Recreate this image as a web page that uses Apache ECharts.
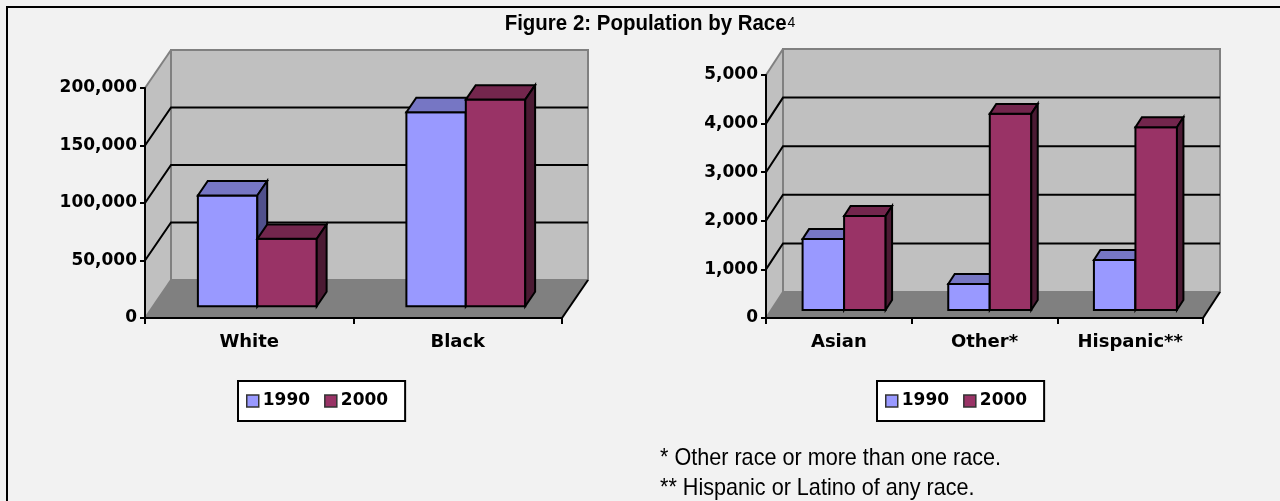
<!DOCTYPE html>
<html>
<head>
<meta charset="utf-8">
<title>Figure 2: Population by Race</title>
<script src="https://cdn.jsdelivr.net/npm/echarts@6/dist/echarts.min.js"></script>
<style>
    html, body { margin: 0; padding: 0; background: #f2f2f2; }
    #chart { width: 1280px; height: 501px; }
</style>
</head>
<body>
<div id="chart"></div>
<script>
(function () {
    'use strict';

    // left panel (large groups)
    var bigCategories = ['White', 'Black'];
    var big1990 = [96300, 168700];
    var big2000 = [58600, 179700];
    var bigTicks = [0, 50000, 100000, 150000, 200000];

    // right panel (small groups)
    var smallCategories = ['Asian', 'Other*', 'Hispanic**'];
    var small1990 = [1460, 535, 1030];
    var small2000 = [1935, 4035, 3760];
    var smallTicks = [0, 1000, 2000, 3000, 4000, 5000];

    var years = ['1990', '2000'];
    var titleText = 'Figure 2: Population by Race';
    var titleNote = '4';
    var footnotes = ['* Other race or more than one race.', '** Hispanic or Latino of any race.'];

    var FRONT = ['#9999ff', '#993366'];
    var TOP = ['#7676c4', '#73264d'];
    var SIDE = ['#50508c', '#4b1a33'];
    var WALL = '#c0c0c0';
    var FLOOR = '#808080';
    var EDGE = '#808080';
    var LABEL_FONT = 'DejaVu Sans';
    var NOTE_FONT = "'Liberation Sans', Arial, sans-serif";
    var BAR_RATIO = 0.285;

    // depth offset of each panel's back wall, in pixels
    var depths = [{dx: 26, dy: -38}, {dx: 17, dy: -26}];

    var chart = echarts.init(document.getElementById('chart'), null, {renderer: 'canvas'});

    function toPairs(values) {
        return values.map(function (v, i) {
            return [i, v];
        });
    }

    function fmt(v) {
        return v.toLocaleString('en-US');
    }

    function renderFrame(depth) {
        return function (params, api) {
            var cs = params.coordSys;
            var x0 = cs.x, x1 = cs.x + cs.width;
            var y0 = api.coord([0, 0])[1];
            var yt = api.coord([0, api.value(0)])[1];
            var dx = depth.dx, dy = depth.dy;
            var edge = {stroke: EDGE, lineWidth: 2, fill: null};
            return {
                type: 'group',
                children: [
                    {type: 'polygon', shape: {points: [[x0, y0], [x0, yt], [x0 + dx, yt + dy], [x0 + dx, y0 + dy]]},
                        style: {fill: WALL}},
                    {type: 'rect', shape: {x: x0 + dx, y: yt + dy, width: x1 - x0, height: y0 - yt},
                        style: {fill: WALL, stroke: EDGE, lineWidth: 2}},
                    {type: 'polygon', shape: {points: [[x0, y0], [x1, y0], [x1 + dx, y0 + dy], [x0 + dx, y0 + dy]]},
                        style: {fill: FLOOR}},
                    {type: 'line', shape: {x1: x0, y1: yt, x2: x0 + dx, y2: yt + dy}, style: edge},
                    {type: 'line', shape: {x1: x0, y1: y0, x2: x0 + dx, y2: y0 + dy}, style: edge},
                    {type: 'line', shape: {x1: x0 + dx, y1: y0 + dy, x2: x1 + dx, y2: y0 + dy}, style: edge},
                    {type: 'line', shape: {x1: x1, y1: y0, x2: x1 + dx, y2: y0 + dy},
                        style: {stroke: '#000', lineWidth: 2}}
                ]
            };
        };
    }

    function renderGridLine(depth) {
        return function (params, api) {
            var cs = params.coordSys;
            var x0 = cs.x, x1 = cs.x + cs.width;
            var y = api.coord([0, api.value(0)])[1];
            return {
                type: 'polyline',
                shape: {points: [[x0, y], [x0 + depth.dx, y + depth.dy], [x1 + depth.dx, y + depth.dy]]},
                style: {stroke: '#000', lineWidth: 2, fill: null}
            };
        };
    }

    function renderBar(depth, idx) {
        return function (params, api) {
            var cat = api.value(0);
            var base = api.coord([cat, 0]);
            var top = api.coord([cat, api.value(1)]);
            var w = api.size([1, 0])[0] * BAR_RATIO;
            var ox = depth.dx * 0.31, oy = depth.dy * 0.31;
            var tx = depth.dx * 0.38, ty = depth.dy * 0.38;
            var fx = base[0] + ox + (idx === 0 ? -w : 0);
            var fy0 = base[1] + oy, fy1 = top[1] + oy;
            var line = {stroke: '#000', lineWidth: 2, lineJoin: 'miter'};
            return {
                type: 'group',
                children: [
                    {type: 'rect', shape: {x: fx, y: fy1, width: w, height: fy0 - fy1},
                        style: echarts.util.extend({fill: FRONT[idx]}, line)},
                    {type: 'polygon', shape: {points: [[fx, fy1], [fx + w, fy1], [fx + w + tx, fy1 + ty], [fx + tx, fy1 + ty]]},
                        style: echarts.util.extend({fill: TOP[idx]}, line)},
                    {type: 'polygon', shape: {points: [[fx + w, fy1], [fx + w + tx, fy1 + ty], [fx + w + tx, fy0 + ty], [fx + w, fy0]]},
                        style: echarts.util.extend({fill: SIDE[idx]}, line)}
                ]
            };
        };
    }

    function makeAxes(gi, categories, ticks) {
        var xAxis = {
            gridIndex: gi,
            type: 'category',
            data: categories,
            z: 10,
            axisLine: {show: true, lineStyle: {color: '#000', width: 2}},
            axisTick: {show: true, interval: 0, length: 6, lineStyle: {color: '#000', width: 2}},
            axisLabel: {color: '#000', fontFamily: LABEL_FONT, fontWeight: 'bold', fontSize: 18, margin: 15}
        };
        var yAxis = {
            gridIndex: gi,
            type: 'value',
            min: ticks[0],
            max: ticks[ticks.length - 1],
            interval: ticks[1] - ticks[0],
            z: 10,
            axisLine: {show: true, lineStyle: {color: '#000', width: 2}},
            axisTick: {show: true, length: 5, lineStyle: {color: '#000', width: 2}},
            axisLabel: {color: '#000', fontFamily: LABEL_FONT, fontWeight: 'bold', fontSize: 17, margin: 8, formatter: fmt},
            splitLine: {show: false}
        };
        return [xAxis, yAxis];
    }

    function makeSeries(gi, ticks, s1990, s2000) {
        var depth = depths[gi];
        var inner = ticks.slice(1, ticks.length - 1).map(function (t) {
            return [t];
        });
        return [
            {type: 'custom', name: 'frame' + gi, xAxisIndex: gi, yAxisIndex: gi, z: 1, silent: true,
                renderItem: renderFrame(depth), data: [[ticks[ticks.length - 1]]], encode: {y: 0}},
            {type: 'custom', name: 'grid' + gi, xAxisIndex: gi, yAxisIndex: gi, z: 2, silent: true,
                renderItem: renderGridLine(depth), data: inner, encode: {y: 0}},
            {type: 'custom', name: years[0], xAxisIndex: gi, yAxisIndex: gi, z: 3,
                itemStyle: {color: FRONT[0]}, renderItem: renderBar(depth, 0),
                data: toPairs(s1990), encode: {x: 0, y: 1}},
            {type: 'custom', name: years[1], xAxisIndex: gi, yAxisIndex: gi, z: 4,
                itemStyle: {color: FRONT[1]}, renderItem: renderBar(depth, 1),
                data: toPairs(s2000), encode: {x: 0, y: 1}}
        ];
    }

    function makeLegend(left) {
        return {
            data: years,
            left: left,
            top: 381,
            orient: 'horizontal',
            backgroundColor: '#fff',
            borderColor: '#000',
            borderWidth: 2,
            borderRadius: 0,
            padding: [9, 17, 9, 8],
            itemGap: 14,
            itemWidth: 12,
            itemHeight: 12,
            icon: 'rect',
            selectedMode: false,
            itemStyle: {borderColor: '#333', borderWidth: 1.5},
            textStyle: {color: '#000', fontFamily: LABEL_FONT, fontWeight: 'bold', fontSize: 17, lineHeight: 22, padding: [0, 0, 0, -1]}
        };
    }

    var leftAxes = makeAxes(0, bigCategories, bigTicks);
    var rightAxes = makeAxes(1, smallCategories, smallTicks);

    var option = {
        backgroundColor: '#f2f2f2',
        animation: false,
        grid: [
            {left: 145, top: 88, width: 417, height: 230},
            {left: 766, top: 75, width: 437, height: 243}
        ],
        xAxis: [leftAxes[0], rightAxes[0]],
        yAxis: [leftAxes[1], rightAxes[1]],
        legend: [makeLegend(238), makeLegend(877)],
        series: makeSeries(0, bigTicks, big1990, big2000).concat(makeSeries(1, smallTicks, small1990, small2000)),
        graphic: [
            {type: 'line', shape: {x1: 6, y1: 7, x2: 1280, y2: 7}, style: {stroke: '#000', lineWidth: 2}},
            {type: 'line', shape: {x1: 7, y1: 6, x2: 7, y2: 501}, style: {stroke: '#000', lineWidth: 2}},
            {type: 'text', x: 650, y: 24, scaleX: 0.93,
                style: {text: '{t|' + titleText + '}{n|' + titleNote + '}', textAlign: 'center', textVerticalAlign: 'middle',
                    rich: {
                        t: {fontFamily: NOTE_FONT, fontWeight: 'bold', fontSize: 22, fill: '#000'},
                        n: {fontFamily: NOTE_FONT, fontSize: 15, fill: '#000', padding: [0, 0, 3, 1]}
                    }}},
            {type: 'text', x: 660, y: 458, scaleX: 0.9,
                style: {text: footnotes[0], font: '24px ' + NOTE_FONT, fill: '#000', textAlign: 'left', textVerticalAlign: 'middle'}},
            {type: 'text', x: 660, y: 488, scaleX: 0.9,
                style: {text: footnotes[1], font: '24px ' + NOTE_FONT, fill: '#000', textAlign: 'left', textVerticalAlign: 'middle'}}
        ]
    };

    chart.setOption(option);
})();
</script>
</body>
</html>
